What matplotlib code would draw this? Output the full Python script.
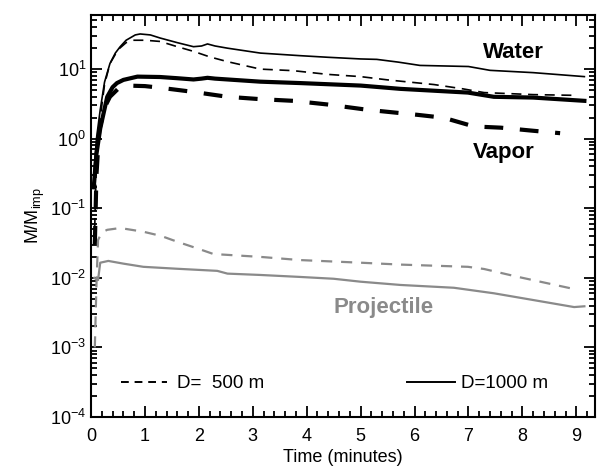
import numpy as np
import matplotlib
matplotlib.use("Agg")
import matplotlib.pyplot as plt
from matplotlib.lines import Line2D
from matplotlib.ticker import LogLocator, MultipleLocator

plt.rcParams['font.family'] = ['Liberation Sans', 'DejaVu Sans']
plt.rcParams['mathtext.fontset'] = 'custom'
plt.rcParams['mathtext.rm'] = 'Liberation Sans'
plt.rcParams['mathtext.it'] = 'Liberation Sans'
plt.rcParams['mathtext.default'] = 'regular'

# ---- data (time in minutes, M/M_imp) ----
water_1000_t = [0.05, 0.1, 0.17, 0.25, 0.35, 0.45, 0.54, 0.65, 0.82, 0.91, 1.1, 1.28, 1.6, 1.9, 2.05,
                2.16, 2.3, 2.53, 3.14, 3.88, 4.39, 5.0, 5.3, 5.7, 6.1, 7.0, 7.4, 8.2, 9.15]
water_1000_y = [0.3, 1.0, 2.6, 6.5, 12, 17, 21, 26, 31, 32, 31, 28, 24, 21, 21.5,
                23, 21.5, 20, 17, 15.6, 14.8, 14, 13.8, 12.6, 11.3, 10.9, 9.6, 8.9, 7.8]

water_500_t = [0.06, 0.1, 0.17, 0.25, 0.35, 0.5, 0.65, 0.78, 1.0, 1.28, 1.6, 1.9, 2.2, 2.53, 3.14,
               3.75, 4.39, 5.0, 5.5, 6.36, 6.9, 7.29, 8.2, 8.96]
water_500_y = [0.03, 0.5, 2.0, 6.0, 12, 19, 24, 26, 26, 25, 21, 18, 15, 12.8, 10,
               9.5, 8.4, 7.8, 7.0, 6.0, 5.2, 4.6, 4.3, 4.2]

vapor_1000_t = [0.05, 0.1, 0.17, 0.3, 0.4, 0.48, 0.6, 0.86, 1.28, 1.6, 1.9, 2.05, 2.16, 2.3, 3.14,
                3.88, 5.0, 5.74, 6.99, 7.47, 8.2, 9.15]
vapor_1000_y = [0.2, 0.6, 1.4, 4.0, 5.5, 6.3, 7.0, 7.8, 7.7, 7.4, 7.1, 7.3, 7.5, 7.3, 6.6,
                6.3, 5.8, 5.2, 4.6, 4.0, 3.9, 3.5]

vapor_500_t = [0.07, 0.1, 0.15, 0.25, 0.35, 0.5, 0.67, 1.0, 1.28, 1.9, 2.53, 3.14, 3.75, 4.39, 5.13,
               6.06, 6.54, 7.1, 7.6, 8.2, 8.7]
vapor_500_y = [0.03, 0.3, 1.3, 2.8, 4.0, 5.2, 5.8, 5.7, 5.4, 4.7, 4.0, 3.7, 3.5, 3.1, 2.6,
               2.2, 2.0, 1.5, 1.44, 1.3, 1.2]

proj_1000_t = [0.06, 0.1, 0.13, 0.17, 0.32, 0.6, 0.97, 1.6, 2.34, 2.53, 3.14, 3.88, 4.5, 5.0, 5.74,
               6.73, 7.47, 8.2, 8.96, 9.15]
proj_1000_y = [0.01, 0.0095, 0.0093, 0.0165, 0.0175, 0.016, 0.0144, 0.0135, 0.0126, 0.0115, 0.011,
               0.0103, 0.0097, 0.0088, 0.0079, 0.0072, 0.006, 0.0048, 0.0038, 0.0039]

proj_500_t = [0.07, 0.1, 0.13, 0.2, 0.3, 0.54, 0.97, 1.3, 1.6, 2.0, 2.27, 3.14, 3.88, 5.0, 5.74,
              6.99, 7.29, 7.9, 8.96]
proj_500_y = [0.001, 0.008, 0.035, 0.045, 0.049, 0.052, 0.046, 0.04, 0.033, 0.026, 0.022, 0.020,
              0.018, 0.0165, 0.0155, 0.0144, 0.0134, 0.0104, 0.0069]

GRAY = '#8a8a8a'

fig = plt.figure(figsize=(6.03, 4.68), dpi=100)
ax = fig.add_axes([0.151, 0.109, 0.836, 0.859])

ax.plot(water_1000_t, water_1000_y, color='black', lw=1.2, ls='-')
ax.plot(water_500_t, water_500_y, color='black', lw=1.2, ls=(0, (6, 4)))
ax.plot(vapor_1000_t, vapor_1000_y, color='black', lw=3.0, ls='-')
ax.plot(vapor_500_t, vapor_500_y, color='black', lw=3.0, ls=(0, (4.5, 4)))
ax.plot(proj_1000_t, proj_1000_y, color=GRAY, lw=1.6, ls='-')
ax.plot(proj_500_t, proj_500_y, color=GRAY, lw=1.6, ls=(0, (5, 4)))

ax.set_yscale('log')
ax.set_xlim(0, 9.35)
ax.set_ylim(1e-4, 60)

ax.xaxis.set_major_locator(MultipleLocator(1))
ax.xaxis.set_minor_locator(MultipleLocator(0.2))
ax.yaxis.set_major_locator(LogLocator(base=10, numticks=10))
ax.yaxis.set_minor_locator(LogLocator(base=10, subs=np.arange(2, 10), numticks=10))

ax.tick_params(which='both', direction='in', top=True, right=True, width=1.3, labelsize=13)
ax.tick_params(which='major', length=8)
ax.tick_params(which='minor', length=4)
ax.tick_params(axis='x', pad=8)
for s in ax.spines.values():
    s.set_linewidth(1.5)

ax.set_xlabel('Time (minutes)', fontsize=13, labelpad=3)
ax.set_ylabel('M/M$_{imp}$', fontsize=13, labelpad=2)

ax.text(7.84, 17.3, 'Water', fontsize=16, fontweight='bold', ha='center', va='center')
ax.text(7.66, 0.63, 'Vapor', fontsize=16, fontweight='bold', ha='center', va='center')
ax.text(5.43, 0.0037, 'Projectile', fontsize=16, fontweight='bold', ha='center', va='center', color=GRAY)

h1 = Line2D([], [], color='black', lw=1.4, ls=(0, (4, 3)))
h2 = Line2D([], [], color='black', lw=1.4, ls='-')
leg1 = ax.legend([h1], ['D=  500 m'], loc='lower left', frameon=False, fontsize=13.5,
                 handlelength=2.5, handletextpad=0.5, bbox_to_anchor=(0.025, 0.02))
ax.add_artist(leg1)
ax.legend([h2], ['D=1000 m'], loc='lower right', frameon=False, fontsize=13.5,
          handlelength=2.6, handletextpad=0.3, bbox_to_anchor=(0.94, 0.02))

fig.savefig('out.png', dpi=100)
